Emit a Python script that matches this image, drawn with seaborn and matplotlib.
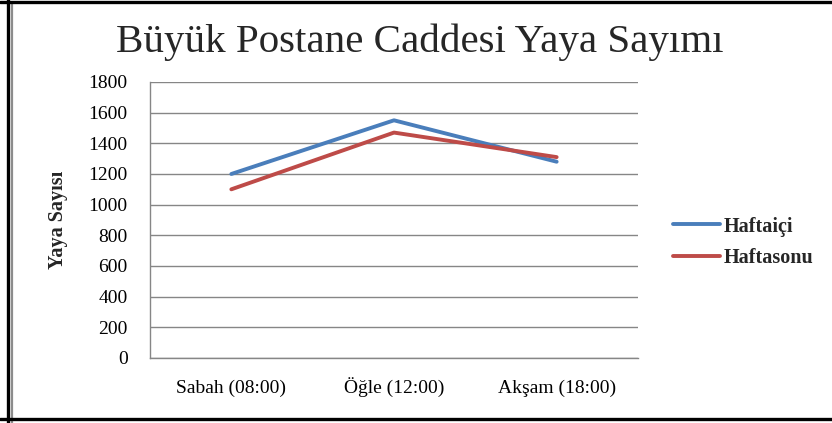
import matplotlib
matplotlib.use("Agg")
import matplotlib.pyplot as plt
from matplotlib.lines import Line2D
import pandas as pd
import seaborn as sns

# values
zamanlar = ["Sabah (08:00)", "Öğle (12:00)", "Akşam (18:00)"]
haftaici = [1200, 1550, 1280]
haftasonu = [1100, 1470, 1310]
seriler = ["Haftaiçi", "Haftasonu"]
renkler = ["#4A7EBB", "#BE4B48"]
y_ticks = [0, 200, 400, 600, 800, 1000, 1200, 1400, 1600, 1800]

df = pd.DataFrame({
    "zaman": zamanlar * 2,
    "sayi": haftaici + haftasonu,
    "seri": [seriler[0]] * 3 + [seriler[1]] * 3,
})

sns.set_style("white")
plt.rcParams["font.family"] = ["Liberation Serif", "DejaVu Serif"]

fig = plt.figure(figsize=(8.32, 4.23), dpi=100)
ax = fig.add_axes([0.1803, 0.1537, 0.5865, 0.6525])

sns.lineplot(
    data=df, x="zaman", y="sayi", hue="seri",
    palette=dict(zip(seriler, renkler)), linewidth=2.8, ax=ax,
)

ax.set_xlim(-0.5, 2.5)
ax.set_ylim(0, 1800)
ax.set_yticks(y_ticks)
ax.grid(axis="y", color="#868686", linewidth=1.0)
ax.set_axisbelow(True)
for side in ["top", "right"]:
    ax.spines[side].set_visible(False)
for side in ["left", "bottom"]:
    ax.spines[side].set_color("#868686")
    ax.spines[side].set_linewidth(1.0)
ax.tick_params(axis="both", length=0, labelsize=14, colors="black")
ax.tick_params(axis="y", pad=16)
ax.tick_params(axis="x", pad=25)
for lbl in ax.get_xticklabels():
    lbl.set_verticalalignment("baseline")
ax.set_xlabel("")
ax.set_ylabel("Yaya Sayısı", fontsize=14.5, fontweight="bold", labelpad=15)

fig.text(0.505, 1 - 52 / 423, "Büyük Postane Caddesi Yaya Sayımı",
         fontsize=29.5, ha="center", va="baseline")

handles, labels = ax.get_legend_handles_labels()
ax.legend(
    handles, labels, loc="center left", bbox_to_anchor=(1.035, 0.42),
    frameon=False, prop={"size": 14.5, "weight": "bold"},
    handlelength=2.3, handletextpad=0.2, labelspacing=0.55,
)

# outer chart frame
fig.add_artist(Line2D([0.0102, 0.0102], [0.0, 1.0], color="black", linewidth=2.4, transform=fig.transFigure))
fig.add_artist(Line2D([0.0150, 0.0150], [0.0, 0.992], color="#8c8c8c", linewidth=1.6, transform=fig.transFigure))
fig.add_artist(Line2D([0.0, 1.0], [0.995, 0.995], color="black", linewidth=2.4, transform=fig.transFigure))
fig.add_artist(Line2D([0.0, 1.0], [0.0085, 0.0085], color="black", linewidth=2.4, transform=fig.transFigure))

fig.savefig("out.png", dpi=100)
